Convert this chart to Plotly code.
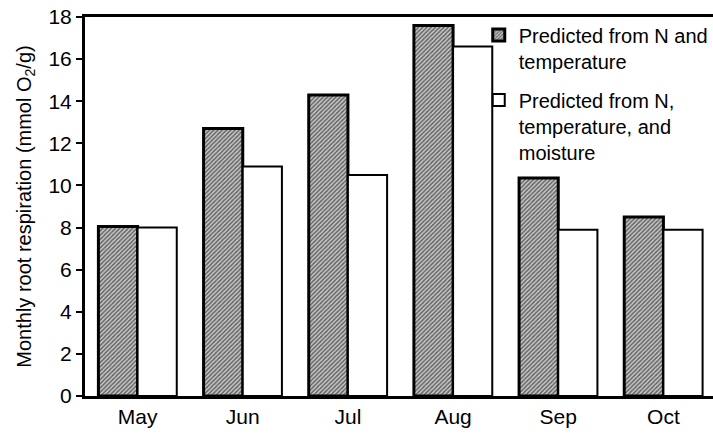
import plotly.graph_objects as go

months = ["May", "Jun", "Jul", "Aug", "Sep", "Oct"]
pred_n_temp = [8.05, 12.7, 14.3, 17.6, 10.35, 8.5]
pred_n_temp_moist = [8.0, 10.9, 10.5, 16.6, 7.9, 7.9]
series_names = ["Predicted from N and<br>temperature",
                "Predicted from N,<br>temperature, and<br>moisture"]
y_ticks = [0, 2, 4, 6, 8, 10, 12, 14, 16, 18]

FONT = "Liberation Sans, Arial, Helvetica, sans-serif"

fig = go.Figure()
fig.add_trace(go.Bar(
    x=months, y=pred_n_temp, name=series_names[0], legendgroup="a",
    marker=dict(color="#9a9a9a",
                line=dict(color="black", width=3),
                pattern=dict(shape="/", bgcolor="#d0d0d0", fgcolor="#000000",
                             size=3, solidity=0.55)),
))
fig.add_trace(go.Bar(
    x=months, y=pred_n_temp_moist, name=series_names[1], legendgroup="b",
    marker=dict(color="white", line=dict(color="black", width=2)),
))

fig.update_layout(
    width=716, height=436,
    margin=dict(l=85, r=0, t=17, b=40),
    paper_bgcolor="white", plot_bgcolor="white",
    barmode="group", bargap=0.255, bargroupgap=0,
    font=dict(family=FONT, size=21, color="black"),
    showlegend=True,
    legend=dict(x=0.624, y=1.004, xanchor="left", yanchor="top",
                bgcolor="rgba(0,0,0,0)", font=dict(size=20),
                valign="top", tracegroupgap=10, itemwidth=30),
)
fig.update_xaxes(showline=True, linecolor="black", linewidth=2.5, mirror=True,
                 ticks="", showgrid=False, tickfont=dict(size=21))
fig.update_yaxes(range=[0, 18], tickvals=y_ticks, showline=True, linecolor="black",
                 linewidth=3, ticks="outside", ticklen=6, tickwidth=2,
                 tickcolor="black", showgrid=False, zeroline=False,
                 tickfont=dict(size=21),
                 title=dict(text="Monthly root respiration (mmol O<sub>2</sub>/g)",
                            font=dict(size=20), standoff=12))

fig.write_html("out.html", config={"displayModeBar": False},
               post_script="document.body.style.margin='0';document.body.style.overflow='hidden';")
